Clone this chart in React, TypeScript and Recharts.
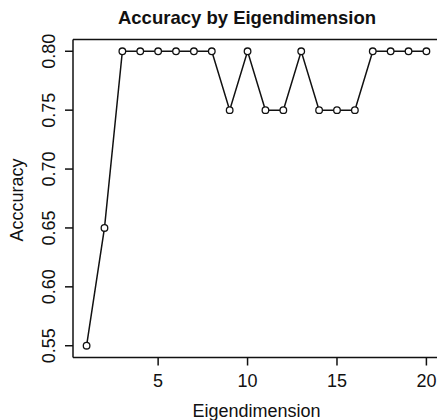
import React from "react";
import {
  LineChart,
  Line,
  XAxis,
  YAxis,
  ReferenceLine,
} from "recharts";

// values
const dimensions = [1, 2, 3, 4, 5, 6, 7, 8, 9, 10, 11, 12, 13, 14, 15, 16, 17, 18, 19, 20];
const accuracy = [
  0.55, 0.65, 0.8, 0.8, 0.8, 0.8, 0.8, 0.8, 0.75, 0.8,
  0.75, 0.75, 0.8, 0.75, 0.75, 0.75, 0.8, 0.8, 0.8, 0.8,
];
const xTicks = [5, 10, 15, 20];
const yTicks = [0.55, 0.6, 0.65, 0.7, 0.75, 0.8];

const data = dimensions.map((d, i) => ({ dim: d, acc: accuracy[i] }));

const FONT = "'Liberation Sans', Arial, Helvetica, sans-serif";

const XTick = (props: any) => {
  const { x, y, payload } = props;
  return (
    <text x={x} y={y} dy={19} textAnchor="middle" fontSize={18} fontFamily={FONT} fill="#111">
      {payload.value}
    </text>
  );
};

const YTick = (props: any) => {
  const { x, y, payload } = props;
  const bx = x - 8;
  return (
    <text
      x={bx}
      y={y}
      textAnchor="middle"
      fontSize={18}
      fontFamily={FONT}
      fill="#111"
      transform={`rotate(-90, ${bx}, ${y})`}
    >
      {payload.value.toFixed(2)}
    </text>
  );
};

const App = () => {
  return (
    <div
      style={{
        position: "absolute",
        left: 0,
        top: 0,
        width: 437,
        height: 420,
        overflow: "hidden",
        background: "#fff",
      }}
    >
      <svg
        width={437}
        height={420}
        style={{ position: "absolute", left: 0, top: 0 }}
      >
        <text
          x={247}
          y={24}
          textAnchor="middle"
          fontSize={18.5}
          fontWeight="bold"
          fontFamily={FONT}
          fill="#111"
        >
          Accuracy by Eigendimension
        </text>
        <text
          x={23}
          y={200}
          textAnchor="middle"
          fontSize={18}
          fontFamily={FONT}
          fill="#111"
          transform="rotate(-90, 23, 200)"
        >
          Acccuracy
        </text>
      </svg>
      <LineChart
        width={440}
        height={420}
        data={data}
        margin={{ top: 39.5, right: 0, bottom: 0, left: 0 }}
        style={{ position: "absolute", left: 0, top: 0 }}
      >
        <XAxis
          dataKey="dim"
          type="number"
          domain={[0.24, 20.76]}
          allowDataOverflow
          ticks={xTicks}
          tick={<XTick />}
          tickSize={8}
          height={62.5}
          stroke="#111"
          strokeWidth={1.5}
          label={{
            value: "Eigendimension",
            position: "insideBottom",
            offset: 3,
            fontSize: 18,
            fontFamily: FONT,
            fill: "#111",
          }}
        />
        <YAxis
          type="number"
          domain={[0.54, 0.81]}
          allowDataOverflow
          ticks={yTicks}
          tick={<YTick />}
          tickSize={8}
          width={73}
          stroke="#111"
          strokeWidth={1.5}
        />
        <ReferenceLine y={0.81} stroke="#111" strokeWidth={1.5} ifOverflow="visible" />
        <Line
          type="linear"
          dataKey="acc"
          stroke="#111"
          strokeWidth={1.5}
          dot={{ r: 3.3, fill: "#fff", stroke: "#111", strokeWidth: 1.3 }}
          isAnimationActive={false}
        />
      </LineChart>
    </div>
  );
};

export default App;
